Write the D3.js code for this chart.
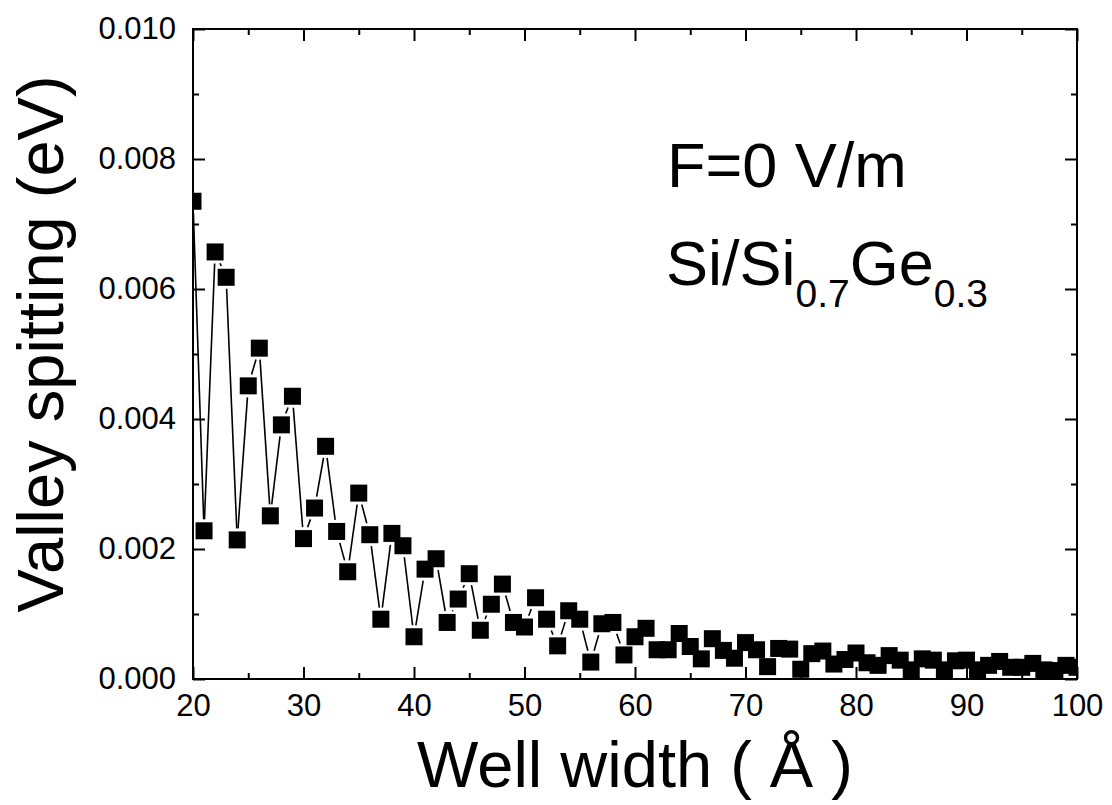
<!DOCTYPE html>
<html>
<head>
<meta charset="utf-8">
<script src="https://cdn.jsdelivr.net/npm/d3@7"></script>
<style>
  html, body { margin: 0; padding: 0; background: #fff; }
  svg { display: block; }
  text { font-family: "Liberation Sans", Arial, Helvetica, sans-serif; fill: #000; }
</style>
</head>
<body>
<svg id="chart" width="1112" height="805"></svg>
<script>
// ---- data ----
const wellWidth = [20,21,22,23,24,25,26,27,28,29,30,31,32,33,34,35,36,37,38,39,
  40,41,42,43,44,45,46,47,48,49,50,51,52,53,54,55,56,57,58,59,
  60,61,62,63,64,65,66,67,68,69,70,71,72,73,74,75,76,77,78,79,
  80,81,82,83,84,85,86,87,88,89,90,91,92,93,94,95,96,97,98,99,100];
const valleySplitting = [0.00735,0.00228,0.00657,0.00618,0.00214,0.00451,0.00509,0.00251,0.00391,0.00435,
  0.00216,0.00263,0.00358,0.00227,0.00165,0.00286,0.00222,0.00092,0.00224,0.00205,
  0.00065,0.00169,0.00185,0.00087,0.00123,0.00162,0.00075,0.00115,0.00146,0.00087,
  0.00080,0.00125,0.00092,0.00051,0.00105,0.00092,0.00026,0.00085,0.00087,0.00037,
  0.00065,0.00078,0.00045,0.00045,0.00070,0.00050,0.00031,0.00062,0.00044,0.00032,
  0.00056,0.00045,0.00019,0.00047,0.00046,0.00015,0.00039,0.00043,0.00023,0.00030,
  0.00040,0.00025,0.00021,0.00036,0.00029,0.00014,0.00031,0.00029,0.00014,0.00028,
  0.00029,0.00014,0.00021,0.00027,0.00018,0.00018,0.00024,0.00014,0.00013,0.00021,0.00018];
const xMajorTicks = [20,30,40,50,60,70,80,90,100];
const xMinorTicks = [25,35,45,55,65,75,85,95];
const yMajorTicks = [0,0.002,0.004,0.006,0.008,0.010];
const yMinorTicks = [0.001,0.003,0.005,0.007,0.009];
const yTickLabels = ["0.000","0.002","0.004","0.006","0.008","0.010"];
const xTitle = "Well width ( Å )";
const yTitle = "Valley spitting (eV)";

// ---- layout ----
const L = 193, R = 1077, T = 29, B = 679;
const svg = d3.select("#chart");
svg.append("rect").attr("width",1112).attr("height",805).attr("fill","#fff");

const x = d3.scaleLinear().domain([20,100]).range([L,R]);
const y = d3.scaleLinear().domain([0,0.010]).range([B,T]);

svg.append("defs").append("clipPath").attr("id","plotclip")
  .append("rect").attr("x",L).attr("y",T).attr("width",R-L).attr("height",B-T);

const plot = svg.append("g").attr("clip-path","url(#plotclip)");
const pts = wellWidth.map((w,i)=>({px:x(w), py:y(valleySplitting[i])}));

// connecting line segments with gaps near markers
const half = 8.5, gap = 3;
const segs = [];
for (let i=0;i<pts.length-1;i++){
  const a=pts[i], b=pts[i+1];
  const dx=b.px-a.px, dy=b.py-a.py, len=Math.hypot(dx,dy);
  if (len===0) continue;
  const ux=dx/len, uy=dy/len;
  const t = half/Math.max(Math.abs(ux),Math.abs(uy)) + gap;
  if (len > 2*t + 1) segs.push({x1:a.px+ux*t, y1:a.py+uy*t, x2:b.px-ux*t, y2:b.py-uy*t});
}
plot.selectAll("line.seg").data(segs).enter().append("line")
  .attr("class","seg")
  .attr("x1",d=>d.x1).attr("y1",d=>d.y1).attr("x2",d=>d.x2).attr("y2",d=>d.y2)
  .attr("stroke","#000").attr("stroke-width",1.6);

plot.selectAll("rect.pt").data(pts).enter().append("rect")
  .attr("class","pt")
  .attr("x",d=>d.px-half).attr("y",d=>d.py-half)
  .attr("width",2*half).attr("height",2*half)
  .attr("fill","#000");

// ---- axes ----
function styleAxis(g){
  g.select(".domain").remove();
  g.selectAll(".tick line").attr("stroke","#000").attr("stroke-width",2);
  g.selectAll(".tick text").attr("font-size",31).attr("fill","#000")
    .style("font-family","'Liberation Sans', Arial, sans-serif");
}
// bottom
svg.append("g").attr("transform",`translate(0,${B})`)
  .call(d3.axisBottom(x).tickValues(xMajorTicks).tickSize(-12).tickPadding(15).tickFormat(d3.format("d")))
  .call(styleAxis);
svg.append("g").attr("transform",`translate(0,${B})`)
  .call(d3.axisBottom(x).tickValues(xMinorTicks).tickSize(-6).tickFormat(""))
  .call(styleAxis);
// top
svg.append("g").attr("transform",`translate(0,${T})`)
  .call(d3.axisTop(x).tickValues(xMajorTicks).tickSize(-12).tickFormat(""))
  .call(styleAxis);
svg.append("g").attr("transform",`translate(0,${T})`)
  .call(d3.axisTop(x).tickValues(xMinorTicks).tickSize(-6).tickFormat(""))
  .call(styleAxis);
// left
svg.append("g").attr("transform",`translate(${L},0)`)
  .call(d3.axisLeft(y).tickValues(yMajorTicks).tickSize(-12).tickPadding(17)
    .tickFormat((d,i)=>yTickLabels[i]))
  .call(styleAxis);
svg.append("g").attr("transform",`translate(${L},0)`)
  .call(d3.axisLeft(y).tickValues(yMinorTicks).tickSize(-6).tickFormat(""))
  .call(styleAxis);
// right
svg.append("g").attr("transform",`translate(${R},0)`)
  .call(d3.axisRight(y).tickValues(yMajorTicks).tickSize(-12).tickFormat(""))
  .call(styleAxis);
svg.append("g").attr("transform",`translate(${R},0)`)
  .call(d3.axisRight(y).tickValues(yMinorTicks).tickSize(-6).tickFormat(""))
  .call(styleAxis);

// frame
svg.append("rect").attr("x",L).attr("y",T).attr("width",R-L).attr("height",B-T)
  .attr("fill","none").attr("stroke","#000").attr("stroke-width",2);

// ---- titles ----
svg.append("text").attr("x",(L+R)/2).attr("y",787).attr("text-anchor","middle")
  .attr("font-size",65).text(xTitle);
svg.append("text").attr("transform","translate(63,344) rotate(-90)")
  .attr("text-anchor","middle").attr("font-size",65).text(yTitle);

// ---- annotations ----
svg.append("text").attr("x",667).attr("y",187).attr("font-size",63).text("F=0 V/m");
const t2 = svg.append("text").attr("x",666).attr("y",285).attr("font-size",63);
t2.append("tspan").text("Si/Si");
t2.append("tspan").attr("font-size",39).attr("dy",22).text("0.7");
t2.append("tspan").attr("dy",-22).text("Ge");
t2.append("tspan").attr("font-size",39).attr("dy",22).text("0.3");
</script>
</body>
</html>
